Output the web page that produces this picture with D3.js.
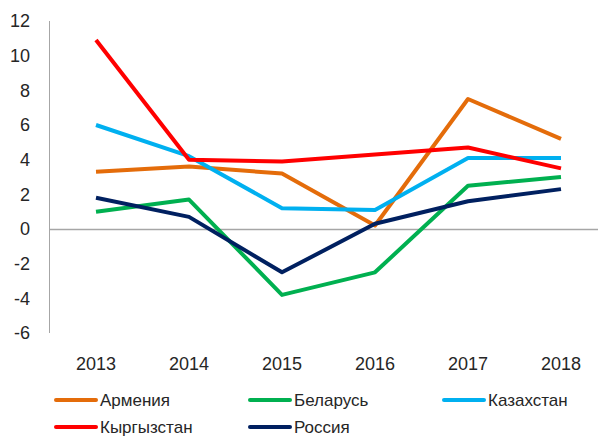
<!DOCTYPE html>
<html>
<head>
<meta charset="utf-8">
<script src="https://cdn.jsdelivr.net/npm/d3@7"></script>
<style>
  body { margin: 0; background: #fff; }
  svg { display: block; font-family: "Liberation Sans", Arial, sans-serif; }
</style>
</head>
<body>
<div id="chart"></div>
<script>
const years = ['2013', '2014', '2015', '2016', '2017', '2018'];
const yTicks = [-6, -4, -2, 0, 2, 4, 6, 8, 10, 12];

const armenia = [3.3, 3.6, 3.2, 0.2, 7.5, 5.2];
const belarus = [1.0, 1.7, -3.8, -2.5, 2.5, 3.0];
const kazakhstan = [6.0, 4.2, 1.2, 1.1, 4.1, 4.1];
const kyrgyzstan = [10.9, 4.0, 3.9, 4.3, 4.7, 3.5];
const russia = [1.8, 0.7, -2.5, 0.3, 1.6, 2.3];

const series = [
  {name: 'Армения', values: armenia, color: '#E46C0A'},
  {name: 'Беларусь', values: belarus, color: '#00B050'},
  {name: 'Казахстан', values: kazakhstan, color: '#00B0F0'},
  {name: 'Кыргызстан', values: kyrgyzstan, color: '#FF0000'},
  {name: 'Россия', values: russia, color: '#002060'}
];

const width = 598;
const height = 436;
const axisX = 49;

const svg = d3.select('#chart').append('svg')
  .attr('width', width)
  .attr('height', height);

const x = d3.scalePoint().domain(years).range([96, 561]);
const y = d3.scaleLinear().domain([-6, 12]).range([333, 21]);

// gridless axes: vertical axis line and zero line
svg.append('line')
  .attr('x1', axisX + 0.5).attr('x2', axisX + 0.5)
  .attr('y1', y(12)).attr('y2', y(-6))
  .attr('stroke', '#A6A6A6').attr('stroke-width', 1);

svg.append('line')
  .attr('x1', axisX).attr('x2', width)
  .attr('y1', Math.round(y(0)) + 0.5).attr('y2', Math.round(y(0)) + 0.5)
  .attr('stroke', '#A6A6A6').attr('stroke-width', 1.5);

svg.append('g')
  .selectAll('text')
  .data(yTicks)
  .join('text')
  .attr('x', 30)
  .attr('y', d => y(d))
  .attr('dy', '0.36em')
  .attr('text-anchor', 'end')
  .attr('font-size', 18)
  .attr('fill', '#262626')
  .text(d => d);

svg.append('g')
  .selectAll('text')
  .data(years)
  .join('text')
  .attr('x', d => x(d))
  .attr('y', 364)
  .attr('dy', '0.36em')
  .attr('text-anchor', 'middle')
  .attr('font-size', 18)
  .attr('fill', '#262626')
  .text(d => d);

const line = d3.line()
  .x((d, i) => x(years[i]))
  .y(d => y(d));

svg.append('g')
  .selectAll('path')
  .data(series)
  .join('path')
  .attr('fill', 'none')
  .attr('stroke', d => d.color)
  .attr('stroke-width', 4)
  .attr('stroke-linejoin', 'round')
  .attr('d', d => line(d.values));

// legend, 3 columns x 2 rows
const legend = svg.append('g')
  .selectAll('g')
  .data(series)
  .join('g')
  .attr('transform', (d, i) => `translate(${56 + (i % 3) * 194},${400 + Math.floor(i / 3) * 27})`);

legend.append('line')
  .attr('x1', 0).attr('x2', 40)
  .attr('stroke', d => d.color)
  .attr('stroke-width', 4)
  .attr('stroke-linecap', 'round');

legend.append('text')
  .attr('x', 44)
  .attr('dy', '0.36em')
  .attr('font-size', 17)
  .attr('fill', '#262626')
  .text(d => d.name);
</script>
</body>
</html>
